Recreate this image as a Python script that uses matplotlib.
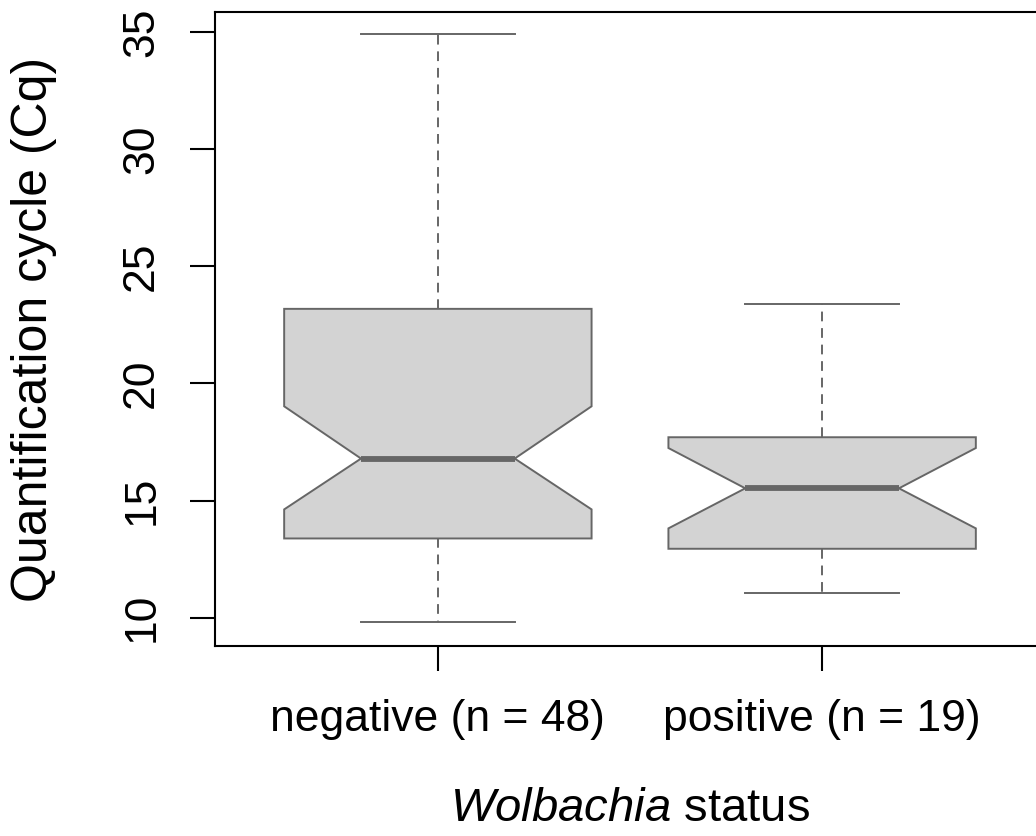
import matplotlib
matplotlib.use("Agg")
import matplotlib.pyplot as plt

# values
groups = ["negative (n = 48)", "positive (n = 19)"]
whisker_low = [9.80, 11.06]
q1 = [13.38, 12.94]
median = [16.79, 15.52]
q3 = [23.18, 17.70]
whisker_high = [34.92, 23.38]
notch_low = [14.62, 13.81]
notch_high = [19.02, 17.24]
yticks = [10, 15, 20, 25, 30, 35]

plt.rcParams["font.family"] = ["Liberation Sans", "DejaVu Sans"]
plt.rcParams["mathtext.fontset"] = "custom"
plt.rcParams["mathtext.rm"] = "Liberation Sans"
plt.rcParams["mathtext.it"] = "Liberation Sans:italic"

line_col = "#666666"
fill_col = "#d3d3d3"
fs = 32

fig = plt.figure(figsize=(10.36, 8.36), dpi=100)
# right edge of the plot frame lies outside the picture, as in the reference
ax = fig.add_axes([215 / 1036, 1 - 646 / 836, 830 / 1036, 634 / 836])

stats = []
for i, g in enumerate(groups):
    stats.append(dict(label=g, whislo=whisker_low[i], q1=q1[i], med=median[i],
                      q3=q3[i], whishi=whisker_high[i],
                      cilo=notch_low[i], cihi=notch_high[i]))

ax.bxp(stats, positions=[1, 2], widths=0.8, shownotches=True, showfliers=False,
       patch_artist=True,
       boxprops=dict(facecolor=fill_col, edgecolor=line_col, linewidth=1.4),
       medianprops=dict(color=line_col, linewidth=4.2, solid_capstyle="butt"),
       whiskerprops=dict(color=line_col, linewidth=1.4, linestyle=(0, (5, 3.5))),
       capprops=dict(color=line_col, linewidth=1.4))

ax.set_xlim(0.42, 2.58)
ax.set_ylim(8.79, 35.85)
ax.set_yticks(yticks)
ax.set_yticklabels([str(v) for v in yticks])
for lbl in ax.get_yticklabels():
    lbl.set_rotation(90)
    lbl.set_va("center")

for sp in ax.spines.values():
    sp.set_linewidth(1.5)
    sp.set_color("black")

ax.tick_params(axis="both", length=18, width=1.5, labelsize=fs, color="black")
ax.tick_params(axis="x", pad=20)
ax.tick_params(axis="y", pad=20)

ax.set_ylabel("Quantification cycle (Cq)", fontsize=36, labelpad=46)
ax.set_xlabel(r"$\mathit{Wolbachia}$ status", fontsize=34, labelpad=34)

fig.savefig("out.png", dpi=100)
